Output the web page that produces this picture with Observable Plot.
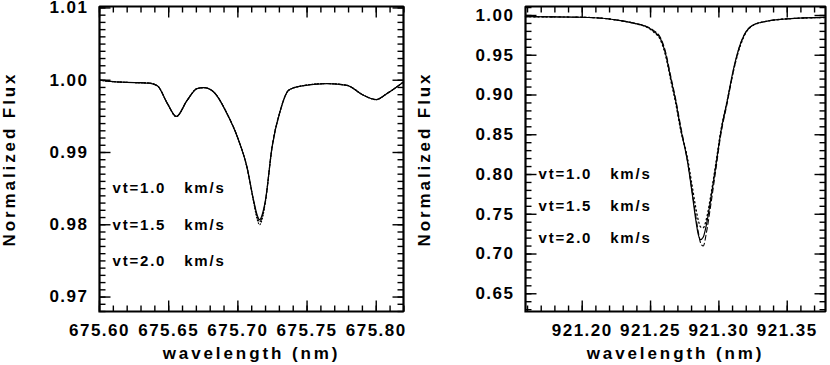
<!DOCTYPE html>
<html>
<head>
<meta charset="utf-8">
<script src="https://cdn.jsdelivr.net/npm/d3@7"></script>
<script src="https://cdn.jsdelivr.net/npm/@observablehq/plot@0.6"></script>
<style>
  body { margin: 0; background: #fff; }
  #wrap { display: flex; width: 830px; height: 365px; }
  #wrap svg { font-family: "Liberation Sans", Arial, sans-serif; color: #000; }
  g[aria-label="x-axis tick label"] text,
  g[aria-label="y-axis tick label"] text { font-size: 17px; font-weight: bold; letter-spacing: 1.5px; }
  g[aria-label="x-axis label"] text,
  g[aria-label="y-axis label"] text { font-size: 17px; font-weight: bold; letter-spacing: 2.9px; }
  g[aria-label="text"] text { font-size: 15px; font-weight: bold; letter-spacing: 1.8px; }
</style>
</head>
<body>
<div id="wrap"></div>
<script>
// ---------- data: left panel (675.7 nm region) ----------
const leftWave = [675.600, 675.610, 675.620, 675.630, 675.636, 675.642, 675.649, 675.6555, 675.6633, 675.6705,
  675.6753, 675.6825, 675.6922, 675.7006, 675.7066, 675.7114, 675.7140, 675.7158, 675.7176, 675.7199,
  675.7247, 675.7307, 675.7367, 675.7451, 675.7644, 675.7788, 675.7908, 675.800, 675.8077, 675.8197];
const leftVt10 = [1.0000, 0.9998, 0.9997, 0.99965, 0.9996, 0.9992, 0.9968, 0.9950, 0.9972, 0.99885,
  0.99898, 0.99838, 0.99537, 0.99167, 0.98796, 0.98333, 0.9813, 0.9807, 0.9814, 0.98333,
  0.99074, 0.99583, 0.99861, 0.99917, 0.99954, 0.9993, 0.99792, 0.99732, 0.99815, 0.99977];
const leftVt15 = [1.0000, 0.9998, 0.9997, 0.99965, 0.9996, 0.9992, 0.9968, 0.9950, 0.9972, 0.99885,
  0.99898, 0.99838, 0.99537, 0.99167, 0.98796, 0.98325, 0.9811, 0.9804, 0.9811, 0.98325,
  0.99074, 0.99583, 0.99861, 0.99917, 0.99954, 0.9993, 0.99792, 0.99732, 0.99815, 0.99977];
const leftVt20 = [1.0000, 0.9998, 0.9997, 0.99965, 0.9996, 0.9992, 0.9968, 0.99495, 0.9972, 0.99885,
  0.99898, 0.99838, 0.99537, 0.99165, 0.98790, 0.98315, 0.9807, 0.9800, 0.9808, 0.98315,
  0.99070, 0.99580, 0.99861, 0.99917, 0.99954, 0.9993, 0.99792, 0.99730, 0.99815, 0.99977];

// ---------- data: right panel (921.3 nm region) ----------
const rightWave = [921.1585, 921.180, 921.200, 921.215, 921.228, 921.240, 921.2463, 921.2524, 921.2573, 921.261,
  921.2646, 921.2683, 921.272, 921.2769, 921.2805, 921.2829, 921.2850, 921.2866, 921.2885, 921.291,
  921.2939, 921.2976, 921.3012, 921.3061, 921.311, 921.3159, 921.3200, 921.3250, 921.3354, 921.3501, 921.378];
const rightVt10 = [0.9985, 0.9982, 0.9978, 0.9965, 0.9935, 0.9895, 0.9865, 0.980, 0.9707, 0.9518,
  0.9224, 0.8931, 0.858, 0.8176, 0.7757, 0.745, 0.724, 0.718, 0.721, 0.738,
  0.7673, 0.8092, 0.8512, 0.893, 0.935, 0.965, 0.980, 0.988, 0.9929, 0.9958, 0.9975];
const rightVt15 = [0.9985, 0.9982, 0.9978, 0.9965, 0.9935, 0.9893, 0.9860, 0.979, 0.9690, 0.9495,
  0.9200, 0.8905, 0.856, 0.822, 0.785, 0.760, 0.742, 0.734, 0.733, 0.745,
  0.772, 0.812, 0.853, 0.893, 0.933, 0.963, 0.979, 0.9875, 0.9929, 0.9958, 0.9975];
const rightVt20 = [0.9985, 0.9982, 0.9978, 0.9965, 0.9935, 0.9896, 0.9867, 0.981, 0.9720, 0.9540,
  0.9250, 0.8955, 0.861, 0.818, 0.778, 0.750, 0.727, 0.714, 0.710, 0.728,
  0.760, 0.804, 0.848, 0.890, 0.933, 0.965, 0.980, 0.988, 0.9929, 0.9958, 0.9975];

// ---------- labels & ticks ----------
const legendLabels = ["vt=1.0   km/s", "vt=1.5   km/s", "vt=2.0   km/s"];
const leftXTicks = [675.60, 675.65, 675.70, 675.75, 675.80];
const leftYTicks = [0.97, 0.98, 0.99, 1.00, 1.01];
const rightXTicks = [921.20, 921.25, 921.30, 921.35];
const rightYTicks = [0.65, 0.70, 0.75, 0.80, 0.85, 0.90, 0.95, 1.00];
const xTitle = "wavelength (nm)";
const yTitle = "Normalized Flux";

function panel(cfg) {
  const H = 365, mt = 6, mb = 54;
  const ih = H - mt - mb, iw = cfg.width - cfg.ml - cfg.mr;
  const minorLen = 6, majorLen = 11;
  const [x0, x1] = cfg.xDomain, [y0, y1] = cfg.yDomain;
  const kx = iw / (x1 - x0), ky = ih / (y1 - y0);   // pixels per data unit
  const fmt = d3.format(".2f");
  const lines = cfg.series.map(s =>
    Plot.line(cfg.xs.map((x, i) => ({x, y: s.values[i]})), {
      x: "x", y: "y", stroke: "black", strokeWidth: s.w, strokeDasharray: s.dash,
      curve: "monotone-x"
    }));
  // tick segments drawn as short two-point paths, positioned by the tick values
  const seg = [];
  let id = 0;
  const addX = (ticks, len) => ticks.forEach(t => {
    seg.push({x: t, y: y0, k: id}, {x: t, y: y0 + len / ky, k: id++});
    seg.push({x: t, y: y1, k: id}, {x: t, y: y1 - len / ky, k: id++});
  });
  const addY = (ticks, len) => ticks.forEach(t => {
    seg.push({x: x0, y: t, k: id}, {x: x0 + len / kx, y: t, k: id++});
    seg.push({x: x1, y: t, k: id}, {x: x1 - len / kx, y: t, k: id++});
  });
  addX(cfg.xMinor, minorLen); addX(cfg.xMajor, majorLen);
  addY(cfg.yMinor, minorLen); addY(cfg.yMajor, majorLen);
  const box = [{x: x0, y: y0}, {x: x1, y: y0}, {x: x1, y: y1}, {x: x0, y: y1}, {x: x0, y: y0}];
  return Plot.plot({
    width: cfg.width, height: H,
    marginLeft: cfg.ml, marginRight: cfg.mr, marginTop: mt, marginBottom: mb,
    x: {domain: cfg.xDomain},
    y: {domain: cfg.yDomain},
    marks: [
      ...lines,
      Plot.line(seg, {x: "x", y: "y", z: "k", stroke: "black", strokeWidth: 1.4, strokeLinecap: "butt"}),
      Plot.line(box, {x: "x", y: "y", stroke: "black", strokeWidth: 2.2, strokeLinejoin: "miter", strokeLinecap: "square"}),
      Plot.axisX(cfg.xMajor, {tickSize: 0, tickPadding: 12, tickFormat: fmt,
        label: xTitle, labelAnchor: "center", labelArrow: "none", labelOffset: 47}),
      Plot.axisY(cfg.yMajor, {tickSize: 0, tickPadding: 11, tickFormat: fmt,
        label: yTitle, labelAnchor: "center", labelArrow: "none", labelOffset: cfg.yLabelOffset}),
      Plot.text(legendLabels, {
        frameAnchor: "left", y: (d, i) => cfg.legendY[i], text: d => d,
        textAnchor: "start", dx: 13, fill: "black", fontSize: 15, fontWeight: "bold"
      })
    ]
  });
}

const wrap = document.getElementById("wrap");
wrap.append(panel({
  width: 415, ml: 99, mr: 12, yLabelOffset: 97,
  xDomain: [675.60, 675.8197], yDomain: [0.968, 1.0102],
  xMajor: leftXTicks, yMajor: leftYTicks,
  xMinor: d3.range(675.60, 675.8201, 0.01), yMinor: d3.range(0.968, 1.0103, 0.001),
  xs: leftWave,
  series: [
    {values: leftVt10, dash: null, w: 1.3},
    {values: leftVt15, dash: "4,2", w: 1.1},
    {values: leftVt20, dash: "1,2", w: 1.1}
  ],
  legendY: [0.985, 0.980, 0.975]
}));
wrap.append(panel({
  width: 415, ml: 110, mr: 5, yLabelOffset: 108,
  xDomain: [921.1585, 921.378], yDomain: [0.6277, 1.0113],
  xMajor: rightXTicks, yMajor: rightYTicks,
  xMinor: d3.range(921.16, 921.3781, 0.01), yMinor: d3.range(0.63, 1.0113, 0.01),
  xs: rightWave,
  series: [
    {values: rightVt10, dash: null, w: 1.2},
    {values: rightVt15, dash: "1.2,3", w: 1.3},
    {values: rightVt20, dash: "5,3", w: 1.1}
  ],
  legendY: [0.80, 0.76, 0.72]
}));
</script>
</body>
</html>
